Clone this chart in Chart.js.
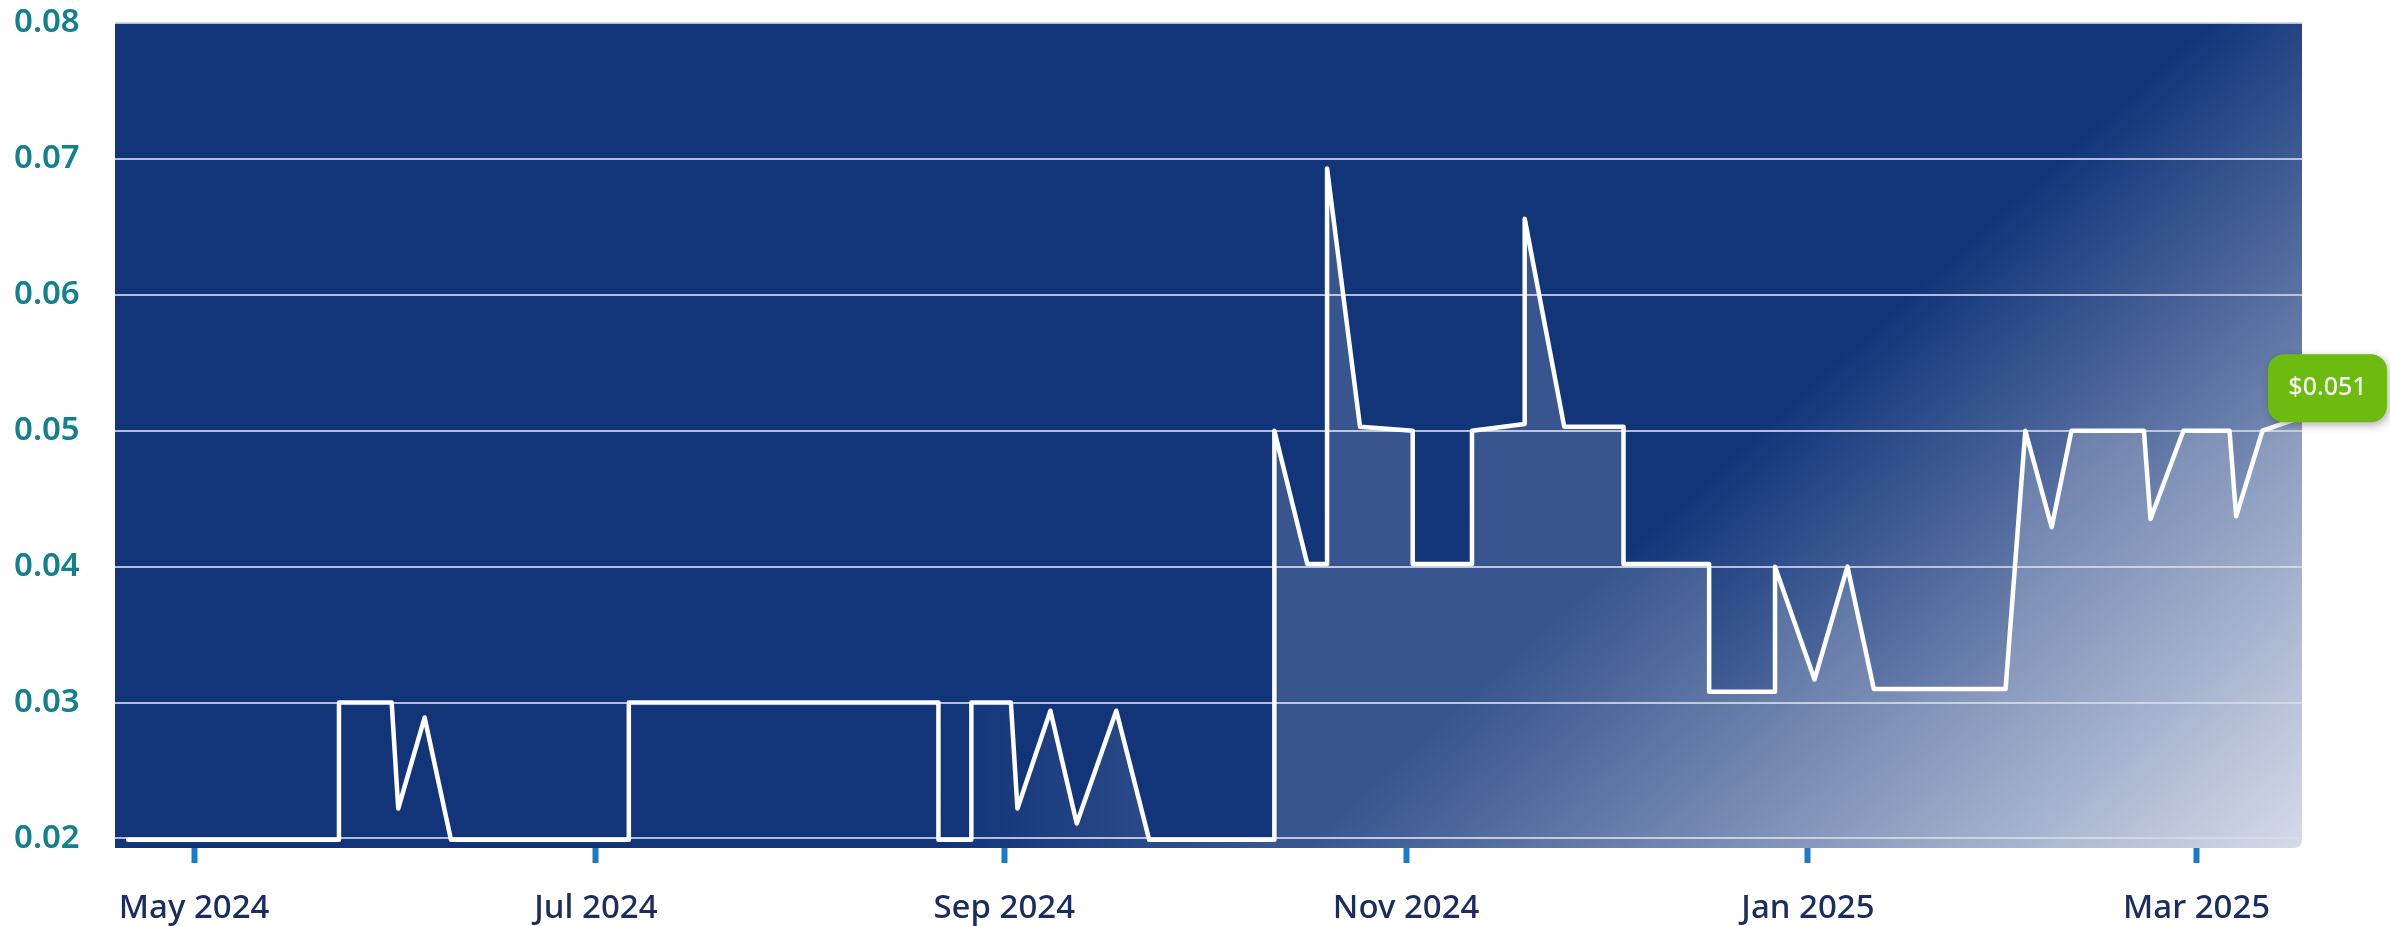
<!DOCTYPE html>
<html>
<head>
<meta charset="utf-8">
<script src="https://cdn.jsdelivr.net/npm/chart.js@4.4.1/dist/chart.umd.min.js"></script>
<style>
  html, body { margin: 0; padding: 0; background: #ffffff; }
  #wrap { width: 2390px; height: 926px; }
</style>
</head>
<body>
<div id="wrap"><canvas id="priceChart" width="2390" height="926"></canvas></div>
<script>
// Price history (USD)
const dates = [
    '2024-04-21', '2024-05-23', '2024-05-23', '2024-05-31', '2024-06-01', '2024-06-05', '2024-06-09',
    '2024-07-06', '2024-07-06', '2024-08-22', '2024-08-22', '2024-08-27', '2024-08-27',
    '2024-09-02', '2024-09-03', '2024-09-08', '2024-09-12', '2024-09-18', '2024-09-23',
    '2024-10-12', '2024-10-12', '2024-10-17', '2024-10-20', '2024-10-20', '2024-10-25',
    '2024-11-02', '2024-11-02', '2024-11-11', '2024-11-11', '2024-11-19', '2024-11-19', '2024-11-25',
    '2024-12-04', '2024-12-04', '2024-12-17', '2024-12-17', '2024-12-27', '2024-12-27',
    '2025-01-02', '2025-01-07', '2025-01-11', '2025-01-31', '2025-02-03', '2025-02-07', '2025-02-10',
    '2025-02-21', '2025-02-22', '2025-02-27', '2025-03-06', '2025-03-07', '2025-03-11', '2025-03-17'
];
const prices = [
    0.0199, 0.0199, 0.0300, 0.0300, 0.0222, 0.0289, 0.0199,
    0.0199, 0.0300, 0.0300, 0.0199, 0.0199, 0.0300,
    0.0300, 0.0222, 0.0294, 0.0211, 0.0294, 0.0199,
    0.0199, 0.0500, 0.0402, 0.0402, 0.0693, 0.0503,
    0.0500, 0.0402, 0.0402, 0.0500, 0.0505, 0.0656, 0.0503,
    0.0503, 0.0402, 0.0402, 0.0308, 0.0308, 0.0400,
    0.0317, 0.0400, 0.0310, 0.0310, 0.0500, 0.0429, 0.0500,
    0.0500, 0.0435, 0.0500, 0.0500, 0.0437, 0.0500, 0.0510
];

const xStart = '2024-04-19';
const xEnd = '2025-03-17';
const xTickDates = ['2024-05-01', '2024-07-01', '2024-09-01', '2024-11-01', '2025-01-01', '2025-03-01'];
const xTickLabels = ['May 2024', 'Jul 2024', 'Sep 2024', 'Nov 2024', 'Jan 2025', 'Mar 2025'];
const yTicks = [0.02, 0.03, 0.04, 0.05, 0.06, 0.07, 0.08];
const yMin = 0.0193;
const yMax = 0.08;

// days since 1 May 2024
const origin = Date.UTC(2024, 4, 1);
function dayNum(s) {
    const p = s.split('-').map(Number);
    return (Date.UTC(p[0], p[1] - 1, p[2]) - origin) / 86400000;
}

const points = dates.map((d, i) => ({ x: dayNum(d), y: prices[i] }));
const tickDays = xTickDates.map(dayNum);

// navy panel that lightens toward the bottom right corner
const plotBackground = {
    id: 'plotBackground',
    beforeDraw(chart) {
        const { ctx, chartArea: a } = chart;
        const w = a.right - a.left;
        const h = a.bottom - a.top;
        const g = ctx.createLinearGradient(a.right - w * 0.207, a.bottom - h * 0.603, a.right, a.bottom);
        g.addColorStop(0, '#12357a');
        g.addColorStop(1, '#cdd3e4');
        ctx.save();
        ctx.fillStyle = g;
        ctx.beginPath();
        ctx.roundRect(a.left, a.top, w, h, [0, 0, 8, 0]);
        ctx.fill();
        ctx.restore();
    }
};

// green price badge on the last point
const lastPriceBadge = {
    id: 'lastPriceBadge',
    afterDatasetsDraw(chart) {
        const { ctx } = chart;
        const meta = chart.getDatasetMeta(0);
        const pt = meta.data[meta.data.length - 1];
        const x = pt.x - 34, y = pt.y - 63, w = 119, h = 68;
        ctx.save();
        ctx.shadowColor = 'rgba(0, 0, 0, 0.3)';
        ctx.shadowBlur = 8;
        ctx.shadowOffsetX = 2;
        ctx.shadowOffsetY = 3;
        ctx.fillStyle = '#6dbb10';
        ctx.beginPath();
        ctx.roundRect(x, y, w, h, 16);
        ctx.fill();
        ctx.shadowColor = 'transparent';
        ctx.fillStyle = '#f4f8ee';
        ctx.font = '500 25px "Noto Sans"';
        ctx.textAlign = 'center';
        ctx.textBaseline = 'middle';
        ctx.fillText('$' + prices[prices.length - 1].toFixed(3), x + w / 2, y + h / 2);
        ctx.restore();
    }
};

const ctx = document.getElementById('priceChart').getContext('2d');
new Chart(ctx, {
    type: 'line',
    data: {
        datasets: [{
            data: points,
            borderColor: '#ffffff',
            borderWidth: 4.5,
            borderJoinStyle: 'round',
            borderCapStyle: 'round',
            pointRadius: 0,
            tension: 0,
            fill: 'start',
            backgroundColor: function(context) {
                const a = context.chart.chartArea;
                if (!a) return 'rgba(255,255,255,0.15)';
                const g = context.chart.ctx.createLinearGradient(a.left, 0, a.right, 0);
                g.addColorStop(0, 'rgba(255,255,255,0)');
                g.addColorStop(0.38, 'rgba(255,255,255,0)');
                g.addColorStop(0.53, 'rgba(255,255,255,0.16)');
                g.addColorStop(1, 'rgba(255,255,255,0.16)');
                return g;
            }
        }]
    },
    options: {
        responsive: false,
        animation: false,
        devicePixelRatio: 1,
        layout: {
            padding: { left: 14, right: 88, top: 23, bottom: 0 }
        },
        plugins: {
            legend: { display: false },
            tooltip: { enabled: false }
        },
        scales: {
            x: {
                type: 'linear',
                min: dayNum(xStart),
                max: dayNum(xEnd),
                border: { display: false },
                grid: {
                    drawOnChartArea: false,
                    drawTicks: true,
                    tickLength: 15,
                    tickWidth: 6,
                    tickColor: '#1b7cc4'
                },
                afterBuildTicks: function(scale) {
                    scale.ticks = tickDays.map(v => ({ value: v }));
                },
                afterFit: function(scale) {
                    scale.height = 78;
                },
                ticks: {
                    autoSkip: false,
                    maxRotation: 0,
                    padding: 26,
                    color: '#1a2c60',
                    font: { family: 'Noto Sans', size: 33, weight: '500' },
                    callback: function(value) {
                        const i = tickDays.indexOf(value);
                        return i >= 0 ? xTickLabels[i] : '';
                    }
                }
            },
            y: {
                min: yMin,
                max: yMax,
                border: { display: false },
                grid: {
                    color: 'rgba(206, 213, 228, 0.85)',
                    lineWidth: 2,
                    drawTicks: false
                },
                afterBuildTicks: function(scale) {
                    scale.ticks = yTicks.map(v => ({ value: v }));
                },
                afterFit: function(scale) {
                    scale.width = 101;
                },
                ticks: {
                    crossAlign: 'far',
                    padding: 0,
                    color: '#12808f',
                    font: { family: 'Noto Sans', size: 33, weight: '600' },
                    callback: function(value) {
                        return value.toFixed(2);
                    }
                }
            }
        }
    },
    plugins: [plotBackground, lastPriceBadge]
});
</script>
</body>
</html>
